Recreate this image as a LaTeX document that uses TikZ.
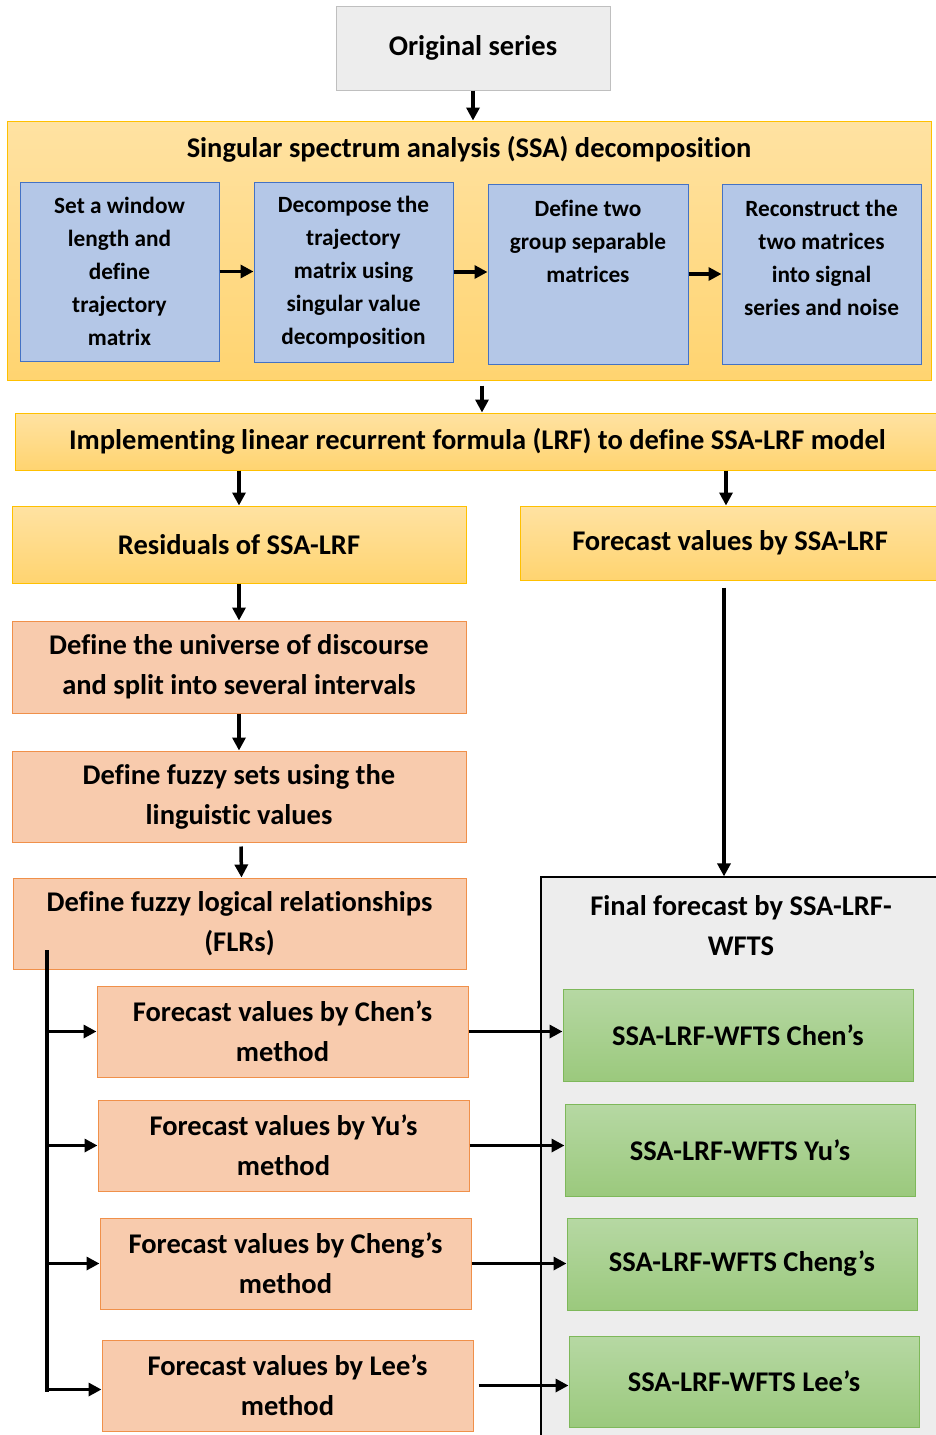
\documentclass[tikz,border=0pt]{standalone}
\usepackage{fontspec}
\setmainfont{Carlito}[Ligatures=NoCommon]
\usetikzlibrary{arrows.meta,calc}
\definecolor{grayfill}{HTML}{EDEDED}
\definecolor{grayline}{HTML}{BFBFBF}
\definecolor{ytop}{HTML}{FFE2A2}
\definecolor{ybot}{HTML}{FFD470}
\definecolor{yline}{HTML}{FFC000}
\definecolor{bfill}{HTML}{B4C7E7}
\definecolor{bline}{HTML}{4472C4}
\definecolor{ofill}{HTML}{F8CBAD}
\definecolor{oline}{HTML}{F0904A}
\definecolor{gtop}{HTML}{B6D8A3}
\definecolor{gbot}{HTML}{9BC97D}
\definecolor{gline}{HTML}{7EB85A}
\tikzset{
  box/.style={draw, line width=1pt, rectangle, inner sep=0pt, align=center, font=\bfseries\fontsize{28.5}{40}\selectfont},
  graybox/.style={box, fill=grayfill, draw=grayline},
  ybox/.style={box, draw=yline, top color=ytop, bottom color=ybot},
  bluebox/.style={box, fill=bfill, draw=bline, font=\bfseries\fontsize{23.3}{33}\selectfont},
  obox/.style={box, fill=ofill, draw=oline},
  gbox/.style={box, draw=gline, top color=gtop, bottom color=gbot},
  txt/.style={align=center, inner sep=0pt, font=\bfseries\fontsize{28.5}{40}\selectfont},
  arr/.style={line width=3.5pt, -{Triangle[length=13pt,width=13pt]}},
  trunkline/.style={line width=3.5pt}
}
\begin{document}
\begin{tikzpicture}[x=1pt,y=-1pt]
\useasboundingbox (0,0) rectangle (935,1435);
% top
\node[graybox, minimum width=274pt, minimum height=84pt] (orig) at (473,48) {Original series};
\node[ybox, minimum width=924pt, minimum height=259pt] (ssa) at (469,250.5) {};
\node[txt] (ssatitle) at (469,149) {Singular spectrum analysis (SSA) decomposition};
\node[bluebox, minimum width=199pt, minimum height=179pt] (b1) at (119.5,271.5) {Set a window\\length and\\define\\trajectory\\matrix};
\node[bluebox, minimum width=199pt, minimum height=180pt] (b2) at (353.5,272) {Decompose the\\trajectory\\matrix using\\singular value\\decomposition};
\node[bluebox, minimum width=200pt, minimum height=180pt] (b3) at (588,274) {Define two\\group separable\\matrices\\\mbox{}\\\mbox{}};
\node[bluebox, minimum width=199pt, minimum height=180pt] (b4) at (821.5,274) {Reconstruct the\\two matrices\\into signal\\series and noise\\\mbox{}};
\node[ybox, minimum width=925pt, minimum height=57pt] (lrf) at (477.5,441.5) {Implementing linear recurrent formula (LRF) to define SSA-LRF model};
\node[ybox, minimum width=454pt, minimum height=77pt] (res) at (239,544.5) {Residuals of SSA-LRF};
\node[ybox, minimum width=420pt, minimum height=74pt] (fsl) at (730,543) {Forecast values by SSA-LRF};
\node[obox, minimum width=454pt, minimum height=92pt] (univ) at (239,667) {Define the universe of discourse\\and split into several intervals};
\node[obox, minimum width=454pt, minimum height=91pt] (fuzzy) at (239,796.5) {Define fuzzy sets using the\\linguistic values};
\node[obox, minimum width=453pt, minimum height=91pt] (flr) at (239.5,923.5) {Define fuzzy logical relationships\\(FLRs)};
% final forecast panel
\node[box, fill=grayfill, draw=black, line width=1.2pt, minimum width=404pt, minimum height=568pt] (final) at (743,1161) {};
\node[txt] (finaltext) at (741,926) {Final forecast by SSA-LRF-\\WFTS};
% method boxes
\node[obox, minimum width=371pt, minimum height=91pt] (m1) at (282.5,1031.5) {Forecast values by Chen’s\\method};
\node[obox, minimum width=371pt, minimum height=91pt] (m2) at (283.5,1145.5) {Forecast values by Yu’s\\method};
\node[obox, minimum width=371pt, minimum height=91pt] (m3) at (285.5,1263.5) {Forecast values by Cheng’s\\method};
\node[obox, minimum width=371pt, minimum height=91pt] (m4) at (287.5,1385.5) {Forecast values by Lee’s\\method};
\node[gbox, minimum width=350pt, minimum height=92pt] (c1) at (738,1035) {SSA-LRF-WFTS Chen’s};
\node[gbox, minimum width=350pt, minimum height=92pt] (c2) at (740,1150) {SSA-LRF-WFTS Yu’s};
\node[gbox, minimum width=350pt, minimum height=92pt] (c3) at (742,1264) {SSA-LRF-WFTS Cheng’s};
\node[gbox, minimum width=350pt, minimum height=91pt] (c4) at (744,1381.5) {SSA-LRF-WFTS Lee’s};
% arrows
\draw[arr] (orig.south) -- (orig.south |- ssa.north);
\draw[arr] (b1.east) -- (b1.east -| b2.west);
\draw[arr] (b2.east) -- (b2.east -| b3.west);
\draw[arr] (b3.east) -- (b3.east -| b4.west);
\draw[arr] ([xshift=13pt,yshift=-5pt]ssa.south) -- ([xshift=13pt]ssa.south |- lrf.north);
\draw[arr] (res.north |- lrf.south) -- (res.north);
\draw[arr] ([xshift=-4pt]fsl.north |- lrf.south) -- ([xshift=-4pt]fsl.north);
\draw[arr] (res.south) -- (univ.north);
\draw[arr] (univ.south) -- (fuzzy.north);
\draw[arr] ([xshift=2pt,yshift=-4pt]fuzzy.south) -- ([xshift=2pt]flr.north);
\draw[arr] ([xshift=-6pt,yshift=-7pt]fsl.south) -- ([xshift=-6pt]fsl.south |- final.north);
\coordinate (trunk) at (47,950);
\draw[trunkline] (trunk) -- ([yshift=-6pt]trunk |- m4.west);
\draw[arr] (trunk |- m1.west) -- (m1.west);
\draw[arr] (trunk |- m2.west) -- (m2.west);
\draw[arr] (trunk |- m3.west) -- (m3.west);
\draw[arr] ([yshift=-4pt]trunk |- m4.west) -- ([yshift=-4pt]m4.west);
\draw[arr] (m1.east) -- (m1.east -| c1.west);
\draw[arr] (m2.east) -- (m2.east -| c2.west);
\draw[arr] (m3.east) -- (m3.east -| c3.west);
\draw[arr] ([xshift=5pt]m4.east) -- ([xshift=0pt]m4.east -| c4.west);
\end{tikzpicture}
\end{document}
